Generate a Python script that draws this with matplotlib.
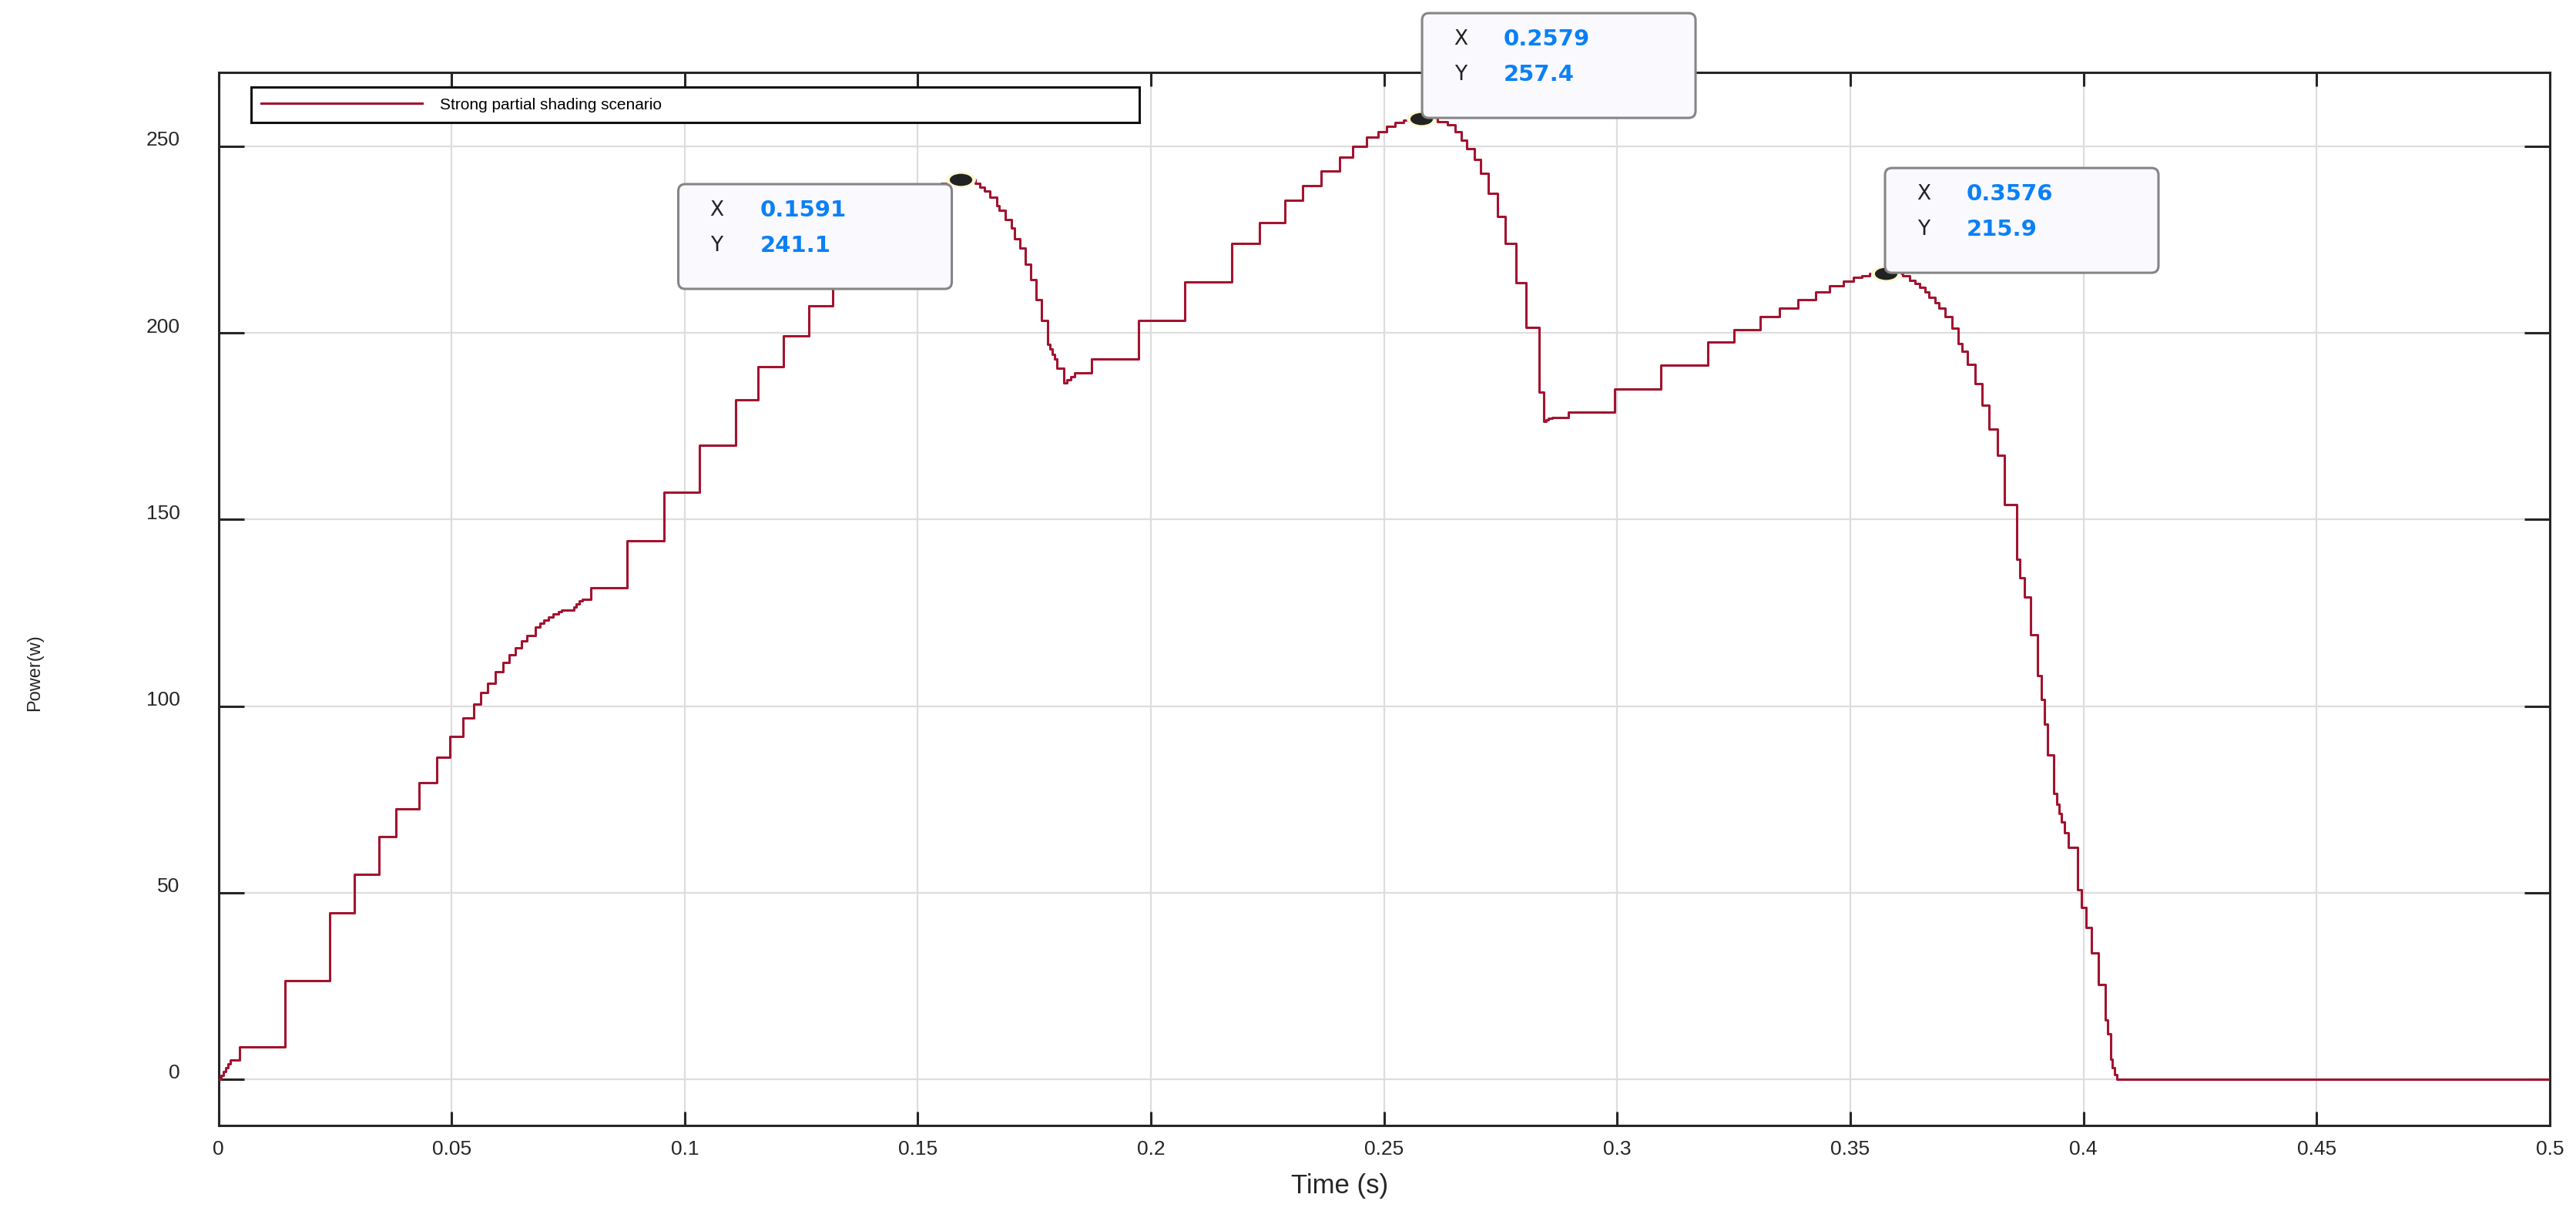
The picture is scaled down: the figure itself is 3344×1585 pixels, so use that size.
import numpy as np
import matplotlib.pyplot as plt
import matplotlib.transforms as mtransforms
from matplotlib.patches import FancyBboxPatch
from matplotlib.path import Path
from matplotlib.ticker import FuncFormatter

plt.rcParams['font.family'] = ['Liberation Sans', 'DejaVu Sans']

# step start times (s) and power level held from that time (W)
time_s = [0.0000, 0.0005, 0.0010, 0.0015, 0.0020, 0.0025, 0.0046, 0.0143, 0.0239, 0.0292,
          0.0345, 0.0380, 0.0430, 0.0468, 0.0496, 0.0525, 0.0547, 0.0563, 0.0578, 0.0594,
          0.0611, 0.0624, 0.0637, 0.0650, 0.0662, 0.0680, 0.0689, 0.0698, 0.0708, 0.0717,
          0.0729, 0.0736, 0.0762, 0.0768, 0.0774, 0.0781, 0.0798, 0.0877, 0.0955, 0.1032,
          0.1110, 0.1158, 0.1211, 0.1267, 0.1318, 0.1362, 0.1400, 0.1435, 0.1468, 0.1498,
          0.1525, 0.1550, 0.1572, 0.1623, 0.1633, 0.1643, 0.1655, 0.1669, 0.1675, 0.1687,
          0.1700, 0.1708, 0.1719, 0.1730, 0.1742, 0.1753, 0.1766, 0.1778, 0.1783, 0.1788,
          0.1793, 0.1798, 0.1813, 0.1820, 0.1828, 0.1836, 0.1873, 0.1974, 0.2073, 0.2173,
          0.2232, 0.2288, 0.2326, 0.2365, 0.2404, 0.2433, 0.2463, 0.2487, 0.2505, 0.2523,
          0.2542, 0.2562, 0.2614, 0.2636, 0.2652, 0.2666, 0.2678, 0.2693, 0.2707, 0.2724,
          0.2743, 0.2760, 0.2783, 0.2805, 0.2832, 0.2842, 0.2847, 0.2852, 0.2860, 0.2895,
          0.2994, 0.3094, 0.3194, 0.3251, 0.3307, 0.3348, 0.3387, 0.3425, 0.3456, 0.3485,
          0.3507, 0.3525, 0.3541, 0.3613, 0.3627, 0.3638, 0.3649, 0.3660, 0.3669, 0.3682,
          0.3690, 0.3704, 0.3718, 0.3732, 0.3740, 0.3751, 0.3768, 0.3782, 0.3797, 0.3815,
          0.3831, 0.3857, 0.3864, 0.3873, 0.3887, 0.3901, 0.3909, 0.3917, 0.3923, 0.3936,
          0.3942, 0.3948, 0.3953, 0.3959, 0.3967, 0.3987, 0.3996, 0.4006, 0.4017, 0.4032,
          0.4047, 0.4052, 0.4058, 0.4062, 0.4067, 0.4072, 0.5000]
power_w = [0.0, 1.0, 2.0, 3.0, 4.1, 5.1, 8.7, 26.5, 44.5, 55.0,
           65.0, 72.5, 79.4, 86.3, 91.9, 96.9, 100.6, 103.6, 106.1, 109.1,
           111.7, 113.7, 115.5, 117.4, 118.8, 121.1, 122.2, 123.1, 123.9, 124.6,
           125.2, 125.7, 126.6, 127.4, 128.1, 128.7, 131.8, 144.3, 157.3, 169.9,
           182.0, 191.0, 199.2, 207.3, 213.5, 219.5, 225.0, 229.5, 233.3, 236.2,
           238.4, 240.0, 241.1, 240.1, 239.1, 238.0, 236.3, 234.1, 232.8, 230.3,
           228.1, 225.2, 222.7, 218.5, 214.2, 209.0, 203.3, 196.9, 195.6, 194.3,
           193.0, 190.5, 186.7, 187.5, 188.3, 189.3, 193.1, 203.3, 213.6, 223.9,
           229.6, 235.5, 239.4, 243.4, 247.1, 249.9, 252.4, 254.0, 255.3, 256.4,
           257.0, 257.4, 256.5, 255.7, 253.8, 251.6, 249.4, 246.5, 242.8, 237.4,
           231.1, 223.9, 213.5, 201.5, 184.2, 176.3, 176.8, 177.2, 177.4, 178.8,
           185.0, 191.4, 197.5, 200.9, 204.4, 206.6, 209.0, 210.9, 212.7, 213.9,
           214.9, 215.4, 215.9, 215.2, 214.0, 213.2, 212.3, 210.9, 209.5, 208.1,
           206.7, 204.4, 201.2, 197.1, 195.0, 191.6, 186.4, 180.6, 174.3, 167.2,
           154.0, 139.3, 134.3, 129.3, 119.1, 108.2, 101.7, 95.1, 86.8, 76.6,
           73.6, 71.3, 69.0, 66.0, 62.2, 50.8, 46.0, 40.7, 33.8, 25.3,
           15.9, 12.1, 5.3, 3.0, 1.2, 0.0, 0.0]

# data tips
tip_x = [0.1591, 0.2579, 0.3576]
tip_y = [241.1, 257.4, 215.9]
tip_x_text = ["0.1591", "0.2579", "0.3576"]
tip_y_text = ["241.1", "257.4", "215.9"]
# lower-left corner of each tip box relative to its point, in inches
tip_box_offset = [(-3.66, -1.42), (0.015, 0.01), (-0.01, 0.01)]

x_ticks = np.arange(0, 0.5001, 0.05)
y_ticks = np.arange(0, 251, 50)

line_color = '#A2142F'
axis_color = '#262626'

fig = plt.figure(figsize=(33.44, 15.85), dpi=100)
ax = fig.add_axes([0.0848, 0.0782, 0.905, 0.8625])

ax.plot(time_s, power_w, drawstyle='steps-post', color=line_color, lw=2.2,
        label='Strong partial shading scenario', zorder=3)

ax.set_xlim(0, 0.5)
ax.set_ylim(-12.4, 269.8)
ax.set_xticks(x_ticks)
ax.set_yticks(y_ticks)
ax.xaxis.set_major_formatter(FuncFormatter(lambda v, p: f'{v:g}'))
ax.yaxis.set_major_formatter(FuncFormatter(lambda v, p: f'{v:g}'))

ax.grid(True, color='#dddddd', lw=1.6, zorder=0)
ax.set_axisbelow(True)
for s in ax.spines.values():
    s.set_color(axis_color)
    s.set_linewidth(2.2)
ax.tick_params(axis='both', direction='in', color=axis_color, width=2.2,
               labelsize=19, labelcolor=axis_color, top=True, right=True)
ax.tick_params(axis='x', length=13, pad=14)
ax.tick_params(axis='y', length=24, pad=36)

# y tick labels sit a little above their ticks
off = mtransforms.ScaledTranslation(0, 0.1, fig.dpi_scale_trans)
for lab in ax.get_yticklabels():
    lab.set_transform(lab.get_transform() + off)

ax.set_xlabel('Time (s)', fontsize=25, color=axis_color)
ax.xaxis.set_label_coords(0.481, -0.045)
ax.set_ylabel('Power(w)', fontsize=17, color=axis_color)
ax.yaxis.set_label_coords(-0.075, 0.43)

leg = ax.legend(loc='upper left', bbox_to_anchor=(0.014, 0.947, 0.381, 0.039),
                mode='expand', borderaxespad=0, fontsize=15, handlelength=10,
                handletextpad=1.1, borderpad=0.65, fancybox=False, framealpha=1)
leg.get_frame().set_edgecolor('#111111')
leg.get_frame().set_linewidth(2.2)
leg.get_lines()[0].set_linewidth(2.2)

# data tip markers (elliptical dots with a pale halo)
ell = Path.unit_circle().transformed(mtransforms.Affine2D().scale(1.85, 1.0))
ax.plot(tip_x, tip_y, ls='none', marker=ell, ms=28, mfc='#fbf8d4', mec='none',
        zorder=4, clip_on=False)
ax.plot(tip_x, tip_y, ls='none', marker=ell, ms=21, mfc='#222222', mec='none',
        zorder=4, clip_on=False)

box_w, box_h = 3.55, 1.36
for x0, y0, tx, ty, (dx, dy) in zip(tip_x, tip_y, tip_x_text, tip_y_text, tip_box_offset):
    trans = fig.dpi_scale_trans + mtransforms.ScaledTranslation(x0, y0, ax.transData)
    box = FancyBboxPatch((dx, dy), box_w, box_h, boxstyle='round,pad=0,rounding_size=0.09',
                         transform=trans, facecolor='#f9f9fe', edgecolor='#858585',
                         lw=2.2, zorder=6, clip_on=False)
    ax.add_patch(box)
    top = dy + box_h
    for row, (name, val) in enumerate([('X', tx), ('Y', ty)]):
        yy = top - 0.34 - row * 0.46
        ax.text(dx + 0.50, yy, name, transform=trans, ha='center', va='center',
                fontsize=19, color='#222222', family='DejaVu Sans', zorder=7, clip_on=False)
        ax.text(dx + 1.06, yy, val, transform=trans, ha='left', va='center',
                fontsize=21, fontweight='bold', color='#0b80f5', family='DejaVu Sans',
                zorder=7, clip_on=False)

fig.savefig('out.png', dpi=100, facecolor='white')
